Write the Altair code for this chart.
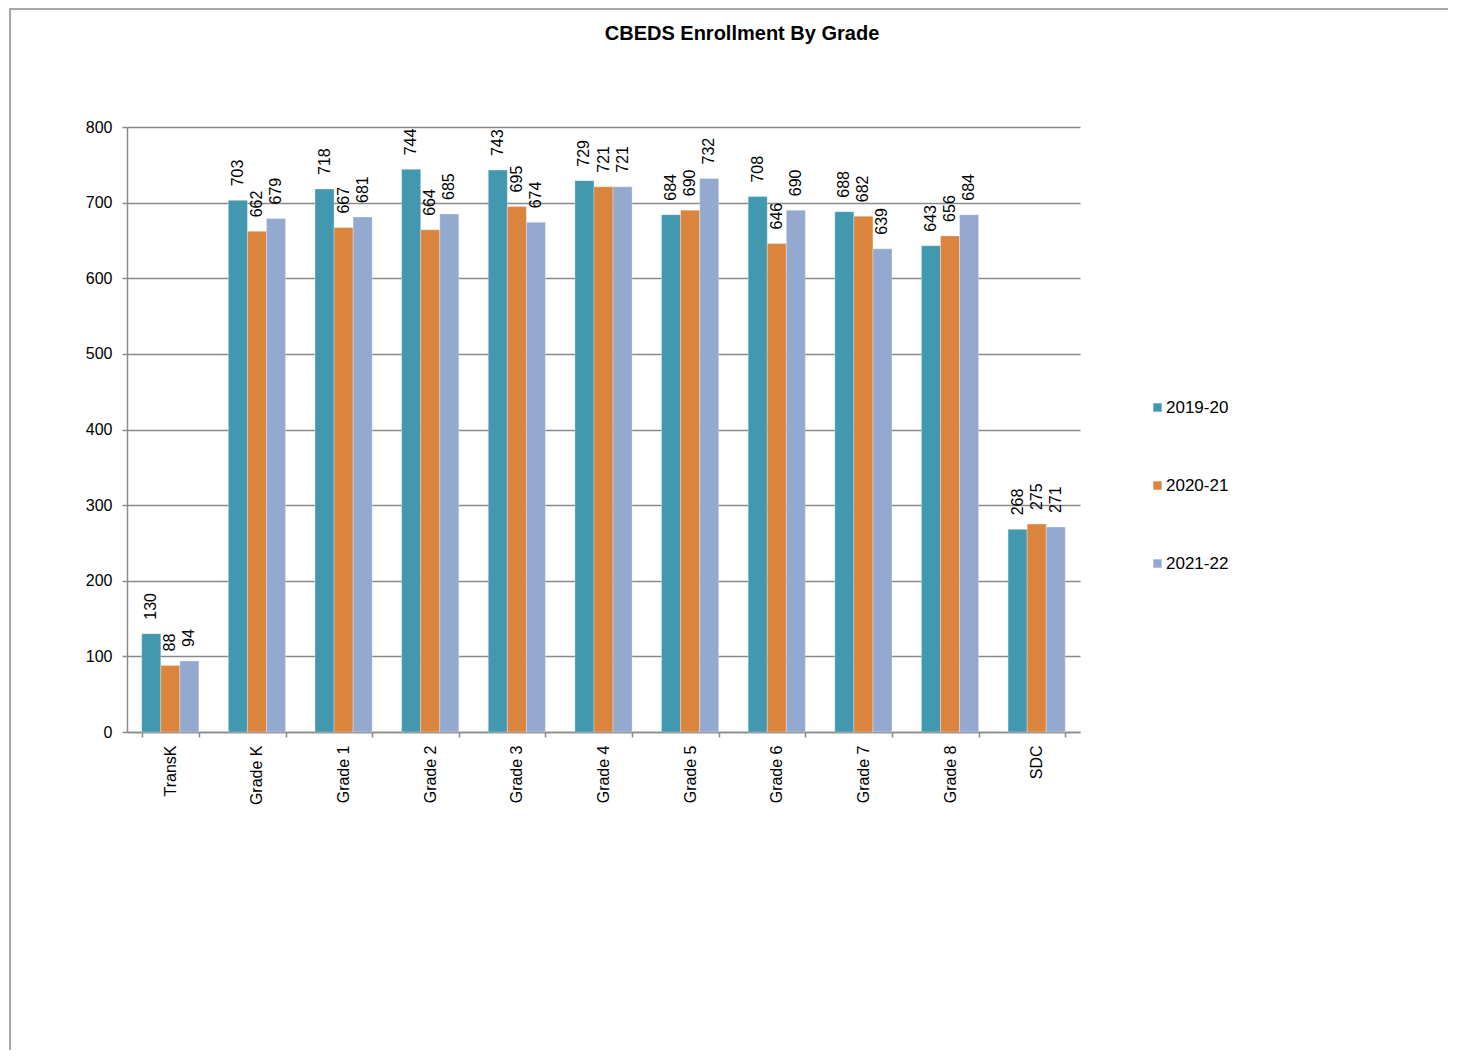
import altair as alt
import pandas as pd

grades = ["TransK", "Grade K", "Grade 1", "Grade 2", "Grade 3", "Grade 4",
          "Grade 5", "Grade 6", "Grade 7", "Grade 8", "SDC"]
years = ["2019-20", "2020-21", "2021-22"]
v_2019_20 = [130, 703, 718, 744, 743, 729, 684, 708, 688, 643, 268]
v_2020_21 = [88, 662, 667, 664, 695, 721, 690, 646, 682, 656, 275]
v_2021_22 = [94, 679, 681, 685, 674, 721, 732, 690, 639, 684, 271]
colors = ["#4198AF", "#DB843D", "#93A9CF"]
title_text = "CBEDS Enrollment By Grade"

rows = []
for i, g in enumerate(grades):
    for yr, vals in zip(years, [v_2019_20, v_2020_21, v_2021_22]):
        rows.append({"grade": g, "year": yr, "value": vals[i]})
df = pd.DataFrame(rows)

FONT = "Liberation Sans"
GRID = "#8a8a8a"

x_enc = alt.X(
    "grade:N", sort=grades, title=None,
    scale=alt.Scale(paddingInner=0.34, paddingOuter=0.17),
    axis=alt.Axis(labelAngle=-90, tickBand="extent", tickSize=5, labelPadding=8,
                  labelFontSize=16, labelFont=FONT, labelColor="#000000",
                  domainColor=GRID, tickColor=GRID, domainWidth=1.5, tickWidth=1.5,
                  grid=False),
)
xo_enc = alt.XOffset("year:N", sort=years, scale=alt.Scale(paddingInner=0, paddingOuter=0))
y_enc = alt.Y(
    "value:Q", title=None,
    scale=alt.Scale(domain=[0, 800], nice=False),
    axis=alt.Axis(values=[0, 100, 200, 300, 400, 500, 600, 700, 800], tickSize=5,
                  labelPadding=10, labelFontSize=16, labelFont=FONT, labelColor="#000000",
                  domainColor=GRID, tickColor=GRID, domainWidth=1.5, tickWidth=1.5,
                  grid=True, gridColor=GRID, gridWidth=1.5),
)

base = alt.Chart(df)

bars = base.mark_bar(stroke="#ffffff", strokeWidth=0.5, strokeOpacity=0.6).encode(
    x=x_enc, xOffset=xo_enc, y=y_enc,
    color=alt.Color(
        "year:N", sort=years,
        scale=alt.Scale(domain=years, range=colors),
        legend=alt.Legend(title=None, orient="none", legendX=1022, legendY=272,
                          symbolType="square", symbolSize=70, symbolStrokeWidth=0,
                          labelFontSize=17, labelFont=FONT, labelColor="#000000",
                          rowPadding=60, labelOffset=0),
    ),
)

labels = base.mark_text(angle=270, align="left", baseline="middle", dx=14,
                        fontSize=16, font=FONT, color="#000000").encode(
    x=x_enc, xOffset=xo_enc, y=y_enc, text=alt.Text("value:Q"),
)

border = alt.Chart(alt.Data(values=[{"a": 1}])).mark_rect(
    fillOpacity=0, stroke="#8c8c8c", strokeWidth=1.5
).encode(
    x=alt.value(-117), x2=alt.value(1500), y=alt.value(-118), y2=alt.value(1100)
)

title = alt.Chart(alt.Data(values=[{"t": title_text}])).mark_text(
    align="center", baseline="middle", fontSize=20, fontWeight="bold", font=FONT,
    color="#000000"
).encode(
    text=alt.Text("t:N"), x=alt.value(615), y=alt.value(-93)
)

chart = alt.layer(border, bars, labels, title).properties(
    width=953, height=605,
    autosize=alt.AutoSizeParams(type="none"),
    padding={"left": 119, "top": 119, "right": 368, "bottom": 318},
).configure(background="#ffffff").configure_view(stroke=None)

chart.save("out.html", embed_options={"renderer": "svg", "actions": False})
